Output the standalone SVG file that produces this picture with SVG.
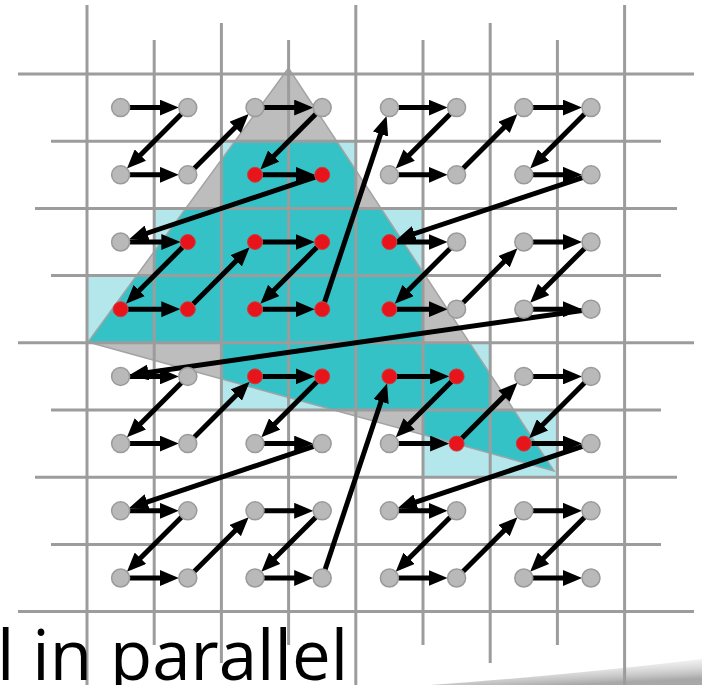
<svg xmlns="http://www.w3.org/2000/svg" width="702" height="685" viewBox="0 0 702 685">
<style>
.grid line{stroke:#9c9c9c;stroke-width:3}
.cv{fill:#b3e7eb}
.tri{fill:#bdbdbd}
.teal{fill:#35c2c7}
.edge{fill:none;stroke:#a3a3a3;stroke-width:1.5}
.conn line{stroke:#000;stroke-width:5;marker-end:url(#ah)}
.g{fill:#b9b9b9;stroke:#9a9a9a;stroke-width:1.5}
.r{fill:#e8141c;stroke:#d23a3a;stroke-width:1}
.lbl{font-family:"Open Sans","Noto Sans","Liberation Sans",sans-serif;font-size:69px;fill:#000}
</style>
<defs>
<marker id="ah" markerUnits="userSpaceOnUse" markerWidth="19" markerHeight="16" refX="9" refY="8" orient="auto">
<path d="M0,0 L19,8 L0,16 Z" fill="#000"/>
</marker>
<clipPath id="triclip"><polygon points="288.5,68 88,342 554,471"/></clipPath>
<linearGradient id="shade" x1="0" y1="0" x2="0.5" y2="1">
<stop offset="0" stop-color="#ffffff" stop-opacity="0"/>
<stop offset="1" stop-color="#a8a8a8" stop-opacity="1"/>
</linearGradient>
</defs>
<rect width="702" height="685" fill="#fff"/>
<g id="coverage">
<path class="cv" d="M221.4,141.2 H355.8 V208.4 H423 V342.8 H490.2 V410 H557.4 V477.2 H423 V410 H221.4 V342.8 H87 V275.6 H154.2 V208.4 H221.4 Z"/>
<polygon class="tri" points="288.5,68 88,342 554,471"/>
<path class="teal" clip-path="url(#triclip)" d="M221.4,141.2 H355.8 V208.4 H423 V342.8 H490.2 V410 H557.4 V477.2 H423 V410 H221.4 V342.8 H87 V275.6 H154.2 V208.4 H221.4 Z"/>
<polygon class="edge" points="288.5,68 88,342 554,471"/>
</g>
<path id="shadow" d="M430,685 C540,677 630,668 702,659 L702,685 Z" fill="url(#shade)"/>
<g class="grid" id="grid">
<line x1="87" y1="5" x2="87" y2="685"/>
<line x1="154.2" y1="40" x2="154.2" y2="645"/>
<line x1="221.4" y1="23" x2="221.4" y2="663"/>
<line x1="288.6" y1="40" x2="288.6" y2="645"/>
<line x1="355.8" y1="5" x2="355.8" y2="685"/>
<line x1="423" y1="40" x2="423" y2="645"/>
<line x1="490.2" y1="23" x2="490.2" y2="663"/>
<line x1="557.4" y1="40" x2="557.4" y2="645"/>
<line x1="624.6" y1="5" x2="624.6" y2="685"/>
<line x1="18" y1="74" x2="694" y2="74"/>
<line x1="51" y1="141.2" x2="661" y2="141.2"/>
<line x1="35" y1="208.4" x2="677" y2="208.4"/>
<line x1="51" y1="275.6" x2="661" y2="275.6"/>
<line x1="18" y1="342.8" x2="694" y2="342.8"/>
<line x1="51" y1="410" x2="661" y2="410"/>
<line x1="35" y1="477.2" x2="677" y2="477.2"/>
<line x1="51" y1="544.4" x2="661" y2="544.4"/>
<line x1="18" y1="611.6" x2="694" y2="611.6"/>
</g>
<g class="conn" id="connectors">
<line x1="129.6" y1="107.6" x2="168.8" y2="107.6"/>
<line x1="181.4" y1="114" x2="134" y2="161.4"/>
<line x1="129.6" y1="174.8" x2="168.8" y2="174.8"/>
<line x1="194.2" y1="168.4" x2="241.6" y2="121"/>
<line x1="264" y1="107.6" x2="303.2" y2="107.6"/>
<line x1="315.8" y1="114" x2="267.4" y2="162.4"/>
<line x1="262.5" y1="174.8" x2="304.7" y2="174.8"/>
<line x1="315.1" y1="177.2" x2="138.6" y2="236"/>
<line x1="129.6" y1="242" x2="170.3" y2="242"/>
<line x1="182.5" y1="247.3" x2="133" y2="296.8"/>
<line x1="128.1" y1="309.2" x2="170.3" y2="309.2"/>
<line x1="193.1" y1="303.9" x2="242.6" y2="254.4"/>
<line x1="262.5" y1="242" x2="304.7" y2="242"/>
<line x1="316.9" y1="247.3" x2="267.4" y2="296.8"/>
<line x1="262.5" y1="309.2" x2="304.7" y2="309.2"/>
<line x1="324.6" y1="302.1" x2="383.4" y2="125.6"/>
<line x1="398.4" y1="107.6" x2="437.6" y2="107.6"/>
<line x1="450.2" y1="114" x2="402.8" y2="161.4"/>
<line x1="398.4" y1="174.8" x2="437.6" y2="174.8"/>
<line x1="463" y1="168.4" x2="510.4" y2="121"/>
<line x1="532.8" y1="107.6" x2="572" y2="107.6"/>
<line x1="584.6" y1="114" x2="537.2" y2="161.4"/>
<line x1="532.8" y1="174.8" x2="572" y2="174.8"/>
<line x1="582.5" y1="177.6" x2="406" y2="236.5"/>
<line x1="396.9" y1="242" x2="437.6" y2="242"/>
<line x1="450.2" y1="248.4" x2="401.8" y2="296.8"/>
<line x1="396.9" y1="309.2" x2="437.6" y2="309.2"/>
<line x1="463" y1="302.8" x2="510.4" y2="255.4"/>
<line x1="532.8" y1="242" x2="572" y2="242"/>
<line x1="584.6" y1="248.4" x2="537.2" y2="295.8"/>
<line x1="532.8" y1="309.2" x2="572" y2="309.2"/>
<line x1="582.1" y1="310.5" x2="139.4" y2="373.7"/>
<line x1="129.6" y1="376.4" x2="168.8" y2="376.4"/>
<line x1="181.4" y1="382.8" x2="134" y2="430.2"/>
<line x1="129.6" y1="443.6" x2="168.8" y2="443.6"/>
<line x1="194.2" y1="437.2" x2="242.6" y2="388.8"/>
<line x1="262.5" y1="376.4" x2="304.7" y2="376.4"/>
<line x1="316.9" y1="381.7" x2="268.4" y2="430.2"/>
<line x1="264" y1="443.6" x2="303.2" y2="443.6"/>
<line x1="313.7" y1="446.4" x2="138.6" y2="504.8"/>
<line x1="129.6" y1="510.8" x2="168.8" y2="510.8"/>
<line x1="181.4" y1="517.2" x2="134" y2="564.6"/>
<line x1="129.6" y1="578" x2="168.8" y2="578"/>
<line x1="194.2" y1="571.6" x2="241.6" y2="524.2"/>
<line x1="264" y1="510.8" x2="303.2" y2="510.8"/>
<line x1="315.8" y1="517.2" x2="268.4" y2="564.6"/>
<line x1="264" y1="578" x2="303.2" y2="578"/>
<line x1="325.1" y1="569.5" x2="383.9" y2="393"/>
<line x1="396.9" y1="376.4" x2="439.1" y2="376.4"/>
<line x1="451.3" y1="381.7" x2="402.8" y2="430.2"/>
<line x1="398.4" y1="443.6" x2="439.1" y2="443.6"/>
<line x1="461.9" y1="438.3" x2="510.4" y2="389.8"/>
<line x1="532.8" y1="376.4" x2="572" y2="376.4"/>
<line x1="584.6" y1="382.8" x2="536.2" y2="431.2"/>
<line x1="531.3" y1="443.6" x2="572" y2="443.6"/>
<line x1="582.5" y1="446.4" x2="407.4" y2="504.8"/>
<line x1="398.4" y1="510.8" x2="437.6" y2="510.8"/>
<line x1="450.2" y1="517.2" x2="402.8" y2="564.6"/>
<line x1="398.4" y1="578" x2="437.6" y2="578"/>
<line x1="463" y1="571.6" x2="510.4" y2="524.2"/>
<line x1="532.8" y1="510.8" x2="572" y2="510.8"/>
<line x1="584.6" y1="517.2" x2="537.2" y2="564.6"/>
<line x1="532.8" y1="578" x2="572" y2="578"/>
</g>
<g id="nodes">
<g id="p0-0"><circle class="g" cx="120.6" cy="107.6" r="9"/></g>
<g id="p1-0"><circle class="g" cx="187.8" cy="107.6" r="9"/></g>
<g id="p2-0"><circle class="g" cx="255" cy="107.6" r="9"/></g>
<g id="p3-0"><circle class="g" cx="322.2" cy="107.6" r="9"/></g>
<g id="p4-0"><circle class="g" cx="389.4" cy="107.6" r="9"/></g>
<g id="p5-0"><circle class="g" cx="456.6" cy="107.6" r="9"/></g>
<g id="p6-0"><circle class="g" cx="523.8" cy="107.6" r="9"/></g>
<g id="p7-0"><circle class="g" cx="591" cy="107.6" r="9"/></g>
<g id="p0-1"><circle class="g" cx="120.6" cy="174.8" r="9"/></g>
<g id="p1-1"><circle class="g" cx="187.8" cy="174.8" r="9"/></g>
<g id="p2-1"><circle class="r" cx="255" cy="174.8" r="7.5"/></g>
<g id="p3-1"><circle class="r" cx="322.2" cy="174.8" r="7.5"/></g>
<g id="p4-1"><circle class="g" cx="389.4" cy="174.8" r="9"/></g>
<g id="p5-1"><circle class="g" cx="456.6" cy="174.8" r="9"/></g>
<g id="p6-1"><circle class="g" cx="523.8" cy="174.8" r="9"/></g>
<g id="p7-1"><circle class="g" cx="591" cy="174.8" r="9"/></g>
<g id="p0-2"><circle class="g" cx="120.6" cy="242" r="9"/></g>
<g id="p1-2"><circle class="r" cx="187.8" cy="242" r="7.5"/></g>
<g id="p2-2"><circle class="r" cx="255" cy="242" r="7.5"/></g>
<g id="p3-2"><circle class="r" cx="322.2" cy="242" r="7.5"/></g>
<g id="p4-2"><circle class="r" cx="389.4" cy="242" r="7.5"/></g>
<g id="p5-2"><circle class="g" cx="456.6" cy="242" r="9"/></g>
<g id="p6-2"><circle class="g" cx="523.8" cy="242" r="9"/></g>
<g id="p7-2"><circle class="g" cx="591" cy="242" r="9"/></g>
<g id="p0-3"><circle class="r" cx="120.6" cy="309.2" r="7.5"/></g>
<g id="p1-3"><circle class="r" cx="187.8" cy="309.2" r="7.5"/></g>
<g id="p2-3"><circle class="r" cx="255" cy="309.2" r="7.5"/></g>
<g id="p3-3"><circle class="r" cx="322.2" cy="309.2" r="7.5"/></g>
<g id="p4-3"><circle class="r" cx="389.4" cy="309.2" r="7.5"/></g>
<g id="p5-3"><circle class="g" cx="456.6" cy="309.2" r="9"/></g>
<g id="p6-3"><circle class="g" cx="523.8" cy="309.2" r="9"/></g>
<g id="p7-3"><circle class="g" cx="591" cy="309.2" r="9"/></g>
<g id="p0-4"><circle class="g" cx="120.6" cy="376.4" r="9"/></g>
<g id="p1-4"><circle class="g" cx="187.8" cy="376.4" r="9"/></g>
<g id="p2-4"><circle class="r" cx="255" cy="376.4" r="7.5"/></g>
<g id="p3-4"><circle class="r" cx="322.2" cy="376.4" r="7.5"/></g>
<g id="p4-4"><circle class="r" cx="389.4" cy="376.4" r="7.5"/></g>
<g id="p5-4"><circle class="r" cx="456.6" cy="376.4" r="7.5"/></g>
<g id="p6-4"><circle class="g" cx="523.8" cy="376.4" r="9"/></g>
<g id="p7-4"><circle class="g" cx="591" cy="376.4" r="9"/></g>
<g id="p0-5"><circle class="g" cx="120.6" cy="443.6" r="9"/></g>
<g id="p1-5"><circle class="g" cx="187.8" cy="443.6" r="9"/></g>
<g id="p2-5"><circle class="g" cx="255" cy="443.6" r="9"/></g>
<g id="p3-5"><circle class="g" cx="322.2" cy="443.6" r="9"/></g>
<g id="p4-5"><circle class="g" cx="389.4" cy="443.6" r="9"/></g>
<g id="p5-5"><circle class="r" cx="456.6" cy="443.6" r="7.5"/></g>
<g id="p6-5"><circle class="r" cx="523.8" cy="443.6" r="7.5"/></g>
<g id="p7-5"><circle class="g" cx="591" cy="443.6" r="9"/></g>
<g id="p0-6"><circle class="g" cx="120.6" cy="510.8" r="9"/></g>
<g id="p1-6"><circle class="g" cx="187.8" cy="510.8" r="9"/></g>
<g id="p2-6"><circle class="g" cx="255" cy="510.8" r="9"/></g>
<g id="p3-6"><circle class="g" cx="322.2" cy="510.8" r="9"/></g>
<g id="p4-6"><circle class="g" cx="389.4" cy="510.8" r="9"/></g>
<g id="p5-6"><circle class="g" cx="456.6" cy="510.8" r="9"/></g>
<g id="p6-6"><circle class="g" cx="523.8" cy="510.8" r="9"/></g>
<g id="p7-6"><circle class="g" cx="591" cy="510.8" r="9"/></g>
<g id="p0-7"><circle class="g" cx="120.6" cy="578" r="9"/></g>
<g id="p1-7"><circle class="g" cx="187.8" cy="578" r="9"/></g>
<g id="p2-7"><circle class="g" cx="255" cy="578" r="9"/></g>
<g id="p3-7"><circle class="g" cx="322.2" cy="578" r="9"/></g>
<g id="p4-7"><circle class="g" cx="389.4" cy="578" r="9"/></g>
<g id="p5-7"><circle class="g" cx="456.6" cy="578" r="9"/></g>
<g id="p6-7"><circle class="g" cx="523.8" cy="578" r="9"/></g>
<g id="p7-7"><circle class="g" cx="591" cy="578" r="9"/></g>
</g>
<text class="lbl" x="-3" y="680">l in parallel</text>
</svg>
